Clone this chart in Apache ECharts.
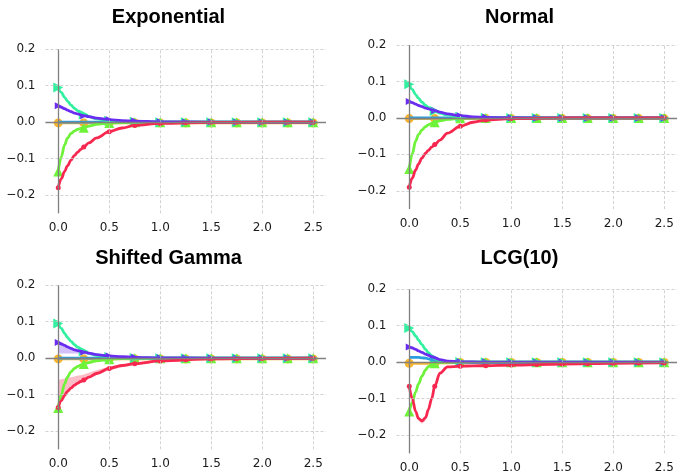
<!DOCTYPE html>
<html><head><meta charset="utf-8">
<script src="https://cdn.jsdelivr.net/npm/echarts@6/dist/echarts.min.js"></script>
<style>html,body{margin:0;padding:0;background:#fff}#c{width:677px;height:475px}</style>
</head><body><div id="c"></div><script>
// ---------- data ----------
const fineX = [0, 0.03, 0.0625, 0.09, 0.125, 0.16, 0.1875, 0.22, 0.25, 0.3, 0.375, 0.5, 0.625, 0.75, 1, 1.5, 2, 2.5];
const markerX = [0, 0.25, 0.5, 0.75, 1, 1.25, 1.5, 1.75, 2, 2.25, 2.5];
const xTickValues = [0, 0.5, 1, 1.5, 2, 2.5];
const yTickValues = [-0.2, -0.1, 0, 0.1, 0.2];
const panelTitles = ['Exponential', 'Normal', 'Shifted Gamma', 'LCG(10)'];

// Exponential
const expOrangeLine = [-0.002,-0.002,-0.002,-0.002,-0.002,-0.002,-0.002,-0.002,-0.002,-0.002,-0.002,-0.002,-0.002,-0.002,-0.002,-0.002,-0.002,-0.002];
const expBlueLine   = [0,0,0,0,0,0,0,0,0,0,0,0,0,0,0,0,0,0];
const expLimeLine   = [-0.135,-0.095,-0.062,-0.044,-0.031,-0.024,-0.02,-0.017,-0.015,-0.011,-0.006,-0.002,-0.001,0,0,0,0,0];
const expTealLine   = [0.095,0.082,0.068,0.058,0.047,0.038,0.032,0.026,0.021,0.015,0.009,0.004,0.002,0.001,0,0,0,0];
const expVioletLine = [0.045,0.041,0.037,0.033,0.029,0.025,0.023,0.02,0.018,0.015,0.011,0.007,0.0045,0.003,0.001,0.0002,0,0];
const expRedLine    = [-0.18,-0.155,-0.135,-0.12,-0.104,-0.091,-0.083,-0.075,-0.068,-0.057,-0.043,-0.026,-0.016,-0.009,-0.0035,-0.0005,0,0];
const expOrangeMk = [-0.002,-0.002,-0.002,-0.002,-0.002,-0.002,-0.002,-0.002,-0.002,-0.002,-0.002];
const expLimeMk   = [-0.135,-0.015,-0.002,0,0,0,0,0,0,0,0];
const expTealMk   = [0.095,0.021,0.004,0.001,0,0,0,0,0,0,0];
const expVioletMk = [0.045,0.018,0.007,0.003,0.001,0.0005,0.0002,0,0,0,0];
const expRedMk    = [-0.18,-0.068,-0.026,-0.009,-0.0035,-0.0013,-0.0005,-0.0002,0,0,0];

// Normal
const normOrangeLine = [-0.002,-0.002,-0.002,-0.002,-0.002,-0.002,-0.002,-0.002,-0.002,-0.002,-0.002,-0.002,-0.002,-0.002,-0.002,-0.002,-0.002,-0.002];
const normBlueLine   = [0,0,0,0,0,0,0,0,0,0,0,0,0,0,0,0,0,0];
const normLimeLine   = [-0.14,-0.098,-0.064,-0.046,-0.033,-0.024,-0.019,-0.015,-0.012,-0.008,-0.004,-0.001,0,0,0,0,0,0];
const normTealLine   = [0.092,0.078,0.064,0.054,0.043,0.034,0.029,0.023,0.019,0.013,0.008,0.003,0.001,0.0005,0,0,0,0];
const normVioletLine = [0.045,0.042,0.038,0.034,0.031,0.027,0.025,0.022,0.02,0.016,0.011,0.006,0.003,0.0015,0.0004,0,0,0];
const normRedLine    = [-0.19,-0.165,-0.143,-0.127,-0.11,-0.097,-0.089,-0.08,-0.073,-0.061,-0.042,-0.023,-0.012,-0.006,-0.002,-0.0002,0,0];
const normOrangeMk = [-0.002,-0.002,-0.002,-0.002,-0.002,-0.002,-0.002,-0.002,-0.002,-0.002,-0.002];
const normLimeMk   = [-0.14,-0.012,-0.001,0,0,0,0,0,0,0,0];
const normTealMk   = [0.092,0.019,0.003,0.0005,0,0,0,0,0,0,0];
const normVioletMk = [0.045,0.02,0.006,0.0015,0.0004,0,0,0,0,0,0];
const normRedMk    = [-0.19,-0.073,-0.023,-0.006,-0.002,-0.0005,-0.0002,0,0,0,0];

// Shifted Gamma
const gamOrangeLine = [-0.002,-0.002,-0.002,-0.002,-0.002,-0.002,-0.002,-0.002,-0.002,-0.002,-0.002,-0.002,-0.002,-0.002,-0.002,-0.002,-0.002,-0.002];
const gamBlueLine   = [0,0,0,0,0,0,0,0,0,0,0,0,0,0,0,0,0,0];
const gamLimeLine   = [-0.137,-0.1,-0.07,-0.052,-0.037,-0.028,-0.023,-0.019,-0.016,-0.012,-0.007,-0.003,-0.001,0,0,0,0,0];
const gamTealLine   = [0.095,0.082,0.068,0.057,0.046,0.037,0.031,0.024,0.019,0.013,0.008,0.003,0.001,0.0005,0,0,0,0];
const gamVioletLine = [0.043,0.039,0.035,0.031,0.027,0.023,0.021,0.019,0.017,0.014,0.01,0.006,0.004,0.0025,0.001,0.0002,0,0];
const gamRedLine    = [-0.135,-0.117,-0.102,-0.091,-0.082,-0.074,-0.069,-0.064,-0.06,-0.052,-0.042,-0.028,-0.02,-0.015,-0.0075,-0.002,-0.0007,-0.0002];
const gamRedBandLo    = [-0.135,-0.117,-0.102,-0.092,-0.083,-0.076,-0.071,-0.067,-0.063,-0.056,-0.046,-0.033,-0.025,-0.019,-0.011,-0.004,-0.0015,-0.0005];
const gamRedBandHi    = [-0.06,-0.058,-0.056,-0.054,-0.052,-0.05,-0.048,-0.047,-0.045,-0.04,-0.033,-0.023,-0.016,-0.011,-0.005,-0.001,0,0];
const gamVioletBandLo = [0.013,0.013,0.013,0.013,0.013,0.013,0.013,0.012,0.011,0.009,0.007,0.004,0.002,0.001,0,0,0,0];
const gamVioletBandHi = [0.043,0.039,0.035,0.031,0.027,0.023,0.021,0.019,0.017,0.014,0.01,0.006,0.004,0.0025,0.001,0.0002,0,0];
const gamLimeBandLo   = [-0.137,-0.1,-0.07,-0.052,-0.037,-0.028,-0.023,-0.019,-0.016,-0.012,-0.007,-0.003,-0.001,0,0,0,0,0];
const gamLimeBandHi   = [-0.137,-0.1,-0.07,-0.052,-0.037,-0.026,-0.02,-0.014,-0.009,-0.006,-0.003,-0.001,0,0,0,0,0,0];
const gamOrangeMk = [-0.002,-0.002,-0.002,-0.002,-0.002,-0.002,-0.002,-0.002,-0.002,-0.002,-0.002];
const gamLimeMk   = [-0.137,-0.016,-0.003,0,0,0,0,0,0,0,0];
const gamTealMk   = [0.095,0.019,0.003,0.0005,0,0,0,0,0,0,0];
const gamVioletMk = [0.043,0.017,0.006,0.0025,0.001,0.0005,0.0002,0,0,0,0];
const gamRedMk    = [-0.135,-0.06,-0.028,-0.015,-0.0075,-0.004,-0.002,-0.0012,-0.0007,-0.0004,-0.0002];

// LCG(10)
const lcgOrangeLine = [-0.003,-0.003,-0.003,-0.003,-0.003,-0.003,-0.003,-0.003,-0.003,-0.002,-0.0015,-0.001,-0.001,-0.001,-0.001,-0.001,-0.001,-0.001];
const lcgBlueLine   = [0.013,0.013,0.013,0.013,0.012,0.011,0.009,0.007,0.005,0.003,0.001,0,0,0,0,0,0,0];
const lcgLimeLine   = [-0.135,-0.11,-0.082,-0.06,-0.038,-0.021,-0.012,-0.006,-0.003,-0.001,0,0,0,0,0,0,0,0];
const lcgTealLine   = [0.094,0.084,0.072,0.061,0.048,0.035,0.026,0.017,0.01,0.005,0.002,0.0005,0,0,0,0,0,0];
const lcgVioletLine = [0.042,0.039,0.035,0.031,0.027,0.022,0.019,0.015,0.012,0.007,0.003,0.001,0.0005,0.0003,0,0,0,0];
const lcgRedLine    = [-0.066,-0.1,-0.135,-0.154,-0.161,-0.152,-0.13,-0.1,-0.066,-0.03,-0.013,-0.011,-0.01,-0.0095,-0.008,-0.005,-0.003,-0.002];
const lcgRedBandLo  = [-0.066,-0.103,-0.14,-0.161,-0.169,-0.16,-0.136,-0.104,-0.068,-0.031,-0.014,-0.012,-0.011,-0.0105,-0.009,-0.006,-0.004,-0.003];
const lcgRedBandHi  = [-0.066,-0.099,-0.132,-0.15,-0.157,-0.148,-0.127,-0.098,-0.065,-0.029,-0.012,-0.01,-0.009,-0.0085,-0.007,-0.004,-0.002,-0.001];
const lcgOrangeMk = [-0.003,-0.003,-0.001,-0.001,-0.001,-0.001,-0.001,-0.001,-0.001,-0.001,-0.001];
const lcgLimeMk   = [-0.135,-0.003,0,0,0,0,0,0,0,0,0];
const lcgTealMk   = [0.094,0.01,0.0005,0,0,0,0,0,0,0,0];
const lcgVioletMk = [0.042,0.012,0.001,0.0003,0,0,0,0,0,0,0];
const lcgRedMk    = [-0.066,-0.066,-0.011,-0.0095,-0.008,-0.0065,-0.005,-0.004,-0.003,-0.0025,-0.002];

// ---------- assembly ----------
const panels = [
  { lines: {orange: expOrangeLine, blue: expBlueLine, lime: expLimeLine, teal: expTealLine, violet: expVioletLine, red: expRedLine},
    marks: {orange: expOrangeMk, lime: expLimeMk, teal: expTealMk, violet: expVioletMk, red: expRedMk}, bands: [] },
  { lines: {orange: normOrangeLine, blue: normBlueLine, lime: normLimeLine, teal: normTealLine, violet: normVioletLine, red: normRedLine},
    marks: {orange: normOrangeMk, lime: normLimeMk, teal: normTealMk, violet: normVioletMk, red: normRedMk}, bands: [] },
  { lines: {orange: gamOrangeLine, blue: gamBlueLine, lime: gamLimeLine, teal: gamTealLine, violet: gamVioletLine, red: gamRedLine},
    marks: {orange: gamOrangeMk, lime: gamLimeMk, teal: gamTealMk, violet: gamVioletMk, red: gamRedMk},
    bands: [['red', gamRedBandLo, gamRedBandHi], ['violet', gamVioletBandLo, gamVioletBandHi], ['lime', gamLimeBandLo, gamLimeBandHi]] },
  { lines: {orange: lcgOrangeLine, blue: lcgBlueLine, lime: lcgLimeLine, teal: lcgTealLine, violet: lcgVioletLine, red: lcgRedLine},
    marks: {orange: lcgOrangeMk, lime: lcgLimeMk, teal: lcgTealMk, violet: lcgVioletMk, red: lcgRedMk},
    bands: [['red', lcgRedBandLo, lcgRedBandHi]] }
];

// ---------- styling / layout ----------
const gridBoxes = [
  {left: 45.5, top: 49.3, width: 280.5, height: 164},
  {left: 396.5, top: 45, width: 280.5, height: 164},
  {left: 45.5, top: 285.3, width: 280.5, height: 164},
  {left: 396.5, top: 289.3, width: 280.5, height: 164}
];
const titlePos = [[168.5, 17], [519.5, 17], [168.5, 258.7], [519.5, 258.7]];
const colors = {orange: '#f8b530', blue: '#2b9ee0', lime: '#6ef23a', teal: '#32f0a0', violet: '#6b2cf2', red: '#f72850'};
const bandColors = {red: 'rgba(247,80,110,0.38)', violet: 'rgba(140,90,245,0.38)', lime: 'rgba(130,240,80,0.32)'};
const markerStyle = {
  orange: {symbol: 'circle', size: 9, rotate: 0},
  lime: {symbol: 'triangle', size: 10, rotate: 0},
  teal: {symbol: 'triangle', size: 10, rotate: -90},
  violet: {symbol: 'triangle', size: 7, rotate: -90},
  red: {symbol: 'circle', size: 5, rotate: 0}
};
const order = ['orange', 'blue', 'lime', 'teal', 'violet', 'red'];
const labelFont = {fontFamily: 'DejaVu Sans', fontSize: 12, color: '#1a1a1a'};
const fmtY = v => (v < -1e-9 ? '\u2212' : '') + Math.abs(v).toFixed(1);

const grid = [], xAxis = [], yAxis = [], series = [], graphic = [];
panels.forEach((p, i) => {
  grid.push(Object.assign({containLabel: false}, gridBoxes[i]));
  xAxis.push({type: 'value', gridIndex: i, min: -0.125, max: 2.625,
    axisLine: {show: false}, axisTick: {show: false}, splitLine: {show: false},
    axisLabel: Object.assign({customValues: xTickValues, formatter: v => v.toFixed(1), margin: 9}, labelFont)});
  yAxis.push({type: 'value', gridIndex: i, min: -0.25, max: 0.2,
    axisLine: {show: false}, axisTick: {show: false}, splitLine: {show: false},
    axisLabel: Object.assign({customValues: yTickValues, formatter: fmtY, margin: 10}, labelFont)});
  // dashed grid lines
  series.push({type: 'line', xAxisIndex: i, yAxisIndex: i, data: [[0, 0]], symbol: 'none', lineStyle: {opacity: 0}, silent: true, z: 0,
    markLine: {silent: true, symbol: ['none', 'none'], label: {show: false}, animation: false,
      lineStyle: {color: '#c6c6c6', width: 0.8, type: [3, 2]},
      data: xTickValues.map(v => ({xAxis: v})).concat(yTickValues.map(v => ({yAxis: v})))}});
  // zero axes lines
  series.push({type: 'line', xAxisIndex: i, yAxisIndex: i, data: [[0, 0]], symbol: 'none', lineStyle: {opacity: 0}, silent: true, z: 0,
    markLine: {silent: true, symbol: ['none', 'none'], label: {show: false}, animation: false,
      lineStyle: {color: '#808080', width: 1.3, type: 'solid'},
      data: [{xAxis: 0}, {yAxis: 0}]}});
  // bands
  p.bands.forEach(([name, lo, hi]) => {
    series.push({type: 'custom', xAxisIndex: i, yAxisIndex: i, silent: true, clip: true, z: 1,
      data: fineX.map((x, k) => [x, lo[k], hi[k]]),
      encode: {x: 0, y: [1, 2]},
      renderItem: (params, api) => {
        if (params.dataIndex !== 0) return null;
        const pts = [];
        for (let k = 0; k < fineX.length; k++) pts.push(api.coord([fineX[k], hi[k]]));
        for (let k = fineX.length - 1; k >= 0; k--) pts.push(api.coord([fineX[k], lo[k]]));
        return {type: 'polygon', shape: {points: pts}, style: {fill: bandColors[name], stroke: null}};
      }});
  });
  order.forEach(name => {
    series.push({type: 'line', xAxisIndex: i, yAxisIndex: i, showSymbol: false, symbol: 'none',
      smooth: 0.35, smoothMonotone: 'x', silent: true,
      data: fineX.map((x, k) => [x, p.lines[name][k]]),
      lineStyle: {color: colors[name], width: 2.8}, itemStyle: {color: colors[name]}});
    if (p.marks[name]) {
      const ms = markerStyle[name];
      series.push({type: 'scatter', xAxisIndex: i, yAxisIndex: i, silent: true,
        symbol: ms.symbol, symbolSize: ms.size, symbolRotate: ms.rotate,
        data: markerX.map((x, k) => [x, p.marks[name][k]]),
        itemStyle: {color: colors[name], opacity: 1}});
    }
  });
  graphic.push({type: 'text', x: titlePos[i][0], y: titlePos[i][1],
    style: {text: panelTitles[i], fontFamily: 'Liberation Sans', fontWeight: 'bold', fontSize: 20, fill: '#000',
      textAlign: 'center', textVerticalAlign: 'middle'}});
});

const chart = echarts.init(document.getElementById('c'), null, {renderer: 'canvas'});
chart.setOption({animation: false, backgroundColor: '#fff', grid, xAxis, yAxis, series, graphic});
</script></body></html>
